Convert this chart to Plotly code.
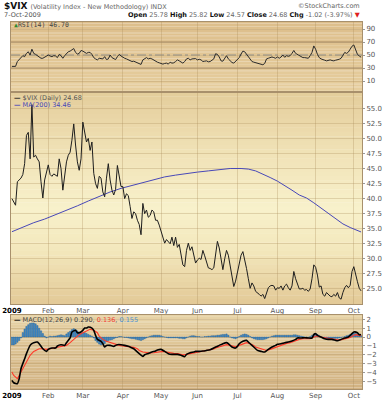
import plotly.graph_objects as go

# ---------------- data ----------------
month_labels = ["2009", "Feb", "Mar", "Apr", "May", "Jun", "Jul", "Aug", "Sep", "Oct"]
month_start_idx = [0, 20, 39, 61, 82, 102, 124, 146, 167, 188]

vix_close = [
    40.0, 39.5, 38.9, 42.8, 43.1, 43.4, 44.0, 45.8, 50.5, 51.0,
    46.6, 55.6, 46.9, 47.2, 46.6, 46.1, 42.8, 40.1, 43.1, 44.5,
    45.6, 44.0, 43.7, 44.1, 43.9, 43.7, 46.6, 45.0, 41.4, 44.0,
    46.1, 47.2, 47.7, 49.7, 52.4, 48.9, 46.1, 44.7, 46.6, 52.7,
    51.0, 49.4, 50.0, 48.0, 49.4, 44.2, 42.5, 41.7, 43.7, 43.4,
    41.1, 40.3, 43.4, 45.8, 43.1, 41.4, 40.6, 41.5, 45.5, 44.0,
    42.0, 42.0, 40.0, 40.8, 40.5, 38.7, 36.7, 37.8, 37.5, 36.4,
    35.7, 34.0, 39.2, 37.5, 38.1, 36.9, 37.2, 38.1, 37.8, 36.4,
    36.4, 35.6, 34.5, 33.5, 32.6, 33.2, 32.9, 32.5, 33.6, 32.2,
    33.6, 31.9, 32.4, 30.9, 29.0, 28.7, 31.4, 32.6, 31.4, 32.0,
    30.5, 29.3, 29.8, 30.1, 29.9, 31.4, 30.5, 29.6, 28.5, 28.4,
    28.2, 28.5, 30.4, 32.9, 31.8, 30.3, 28.2, 30.0, 31.4, 30.6,
    28.7, 26.5, 25.4, 26.3, 27.9, 29.0, 30.6, 31.2, 30.0, 28.4,
    26.7, 25.1, 26.0, 25.5, 24.6, 24.4, 24.1, 23.8, 24.1, 23.4,
    24.4, 25.2, 25.5, 25.6, 25.5, 24.8, 25.2, 25.1, 25.5, 24.8,
    25.5, 25.8, 25.2, 24.8, 25.5, 27.9, 26.7, 25.8, 25.0, 25.0,
    25.1, 24.8, 24.9, 24.6, 25.0, 26.7, 29.0, 28.6, 27.3, 25.3,
    25.5, 24.1, 23.8, 24.4, 24.1, 23.8, 23.7, 24.1, 23.8, 24.4,
    23.5, 23.3, 24.4, 25.2, 25.6, 25.2, 25.6, 27.9, 28.7, 27.3,
    26.2, 25.1, 24.68,
]

ma200_idx = [0, 6, 12, 18, 24, 30, 36, 42, 48, 54, 60, 66, 72, 78, 84, 90, 96,
             102, 108, 114, 120, 126, 130, 134, 138, 142, 146, 150, 154, 158,
             162, 166, 170, 174, 178, 182, 186, 190, 192]
ma200_val = [34.5, 35.3, 36.0, 36.6, 37.3, 38.0, 38.8, 39.6, 40.4, 41.1, 41.7,
             42.2, 42.7, 43.2, 43.6, 43.9, 44.2, 44.4, 44.6, 44.8, 45.0, 45.0,
             44.9, 44.6, 44.1, 43.5, 42.9, 42.2, 41.4, 40.6, 40.1, 39.3, 38.4,
             37.5, 36.6, 35.8, 35.2, 34.7, 34.46]

rsi14 = [
    32.5, 32, 32.5, 40, 43.5, 46, 49, 47.5, 52.5, 55,
    50, 59, 52.5, 51, 49, 47, 45, 45, 47, 48,
    50, 48.5, 47.5, 49, 48.5, 46, 51, 49, 45, 49,
    52.5, 55, 56, 58, 60, 54, 51.5, 52.5, 57, 56,
    54, 52.5, 54, 54, 51, 46, 44, 42.5, 45, 44,
    44, 47.5, 43, 44, 50, 46, 44, 43, 47.5, 51,
    48.5, 46, 45, 44, 43, 41, 40, 40.5, 39.5, 38.5,
    36.5, 35.5, 42.5, 45, 46, 44, 45, 44, 42, 40,
    39, 38, 37, 36, 37, 37.5, 36, 39, 37.5, 38,
    40, 42.5, 41, 39, 37.5, 40, 44, 45, 42.5, 44,
    44.5, 44.5, 42.5, 43.5, 42.5, 40, 40.5, 41, 39.5, 40,
    42, 44, 52, 51, 47, 41, 40.5, 44, 49, 44,
    41, 38.5, 37.5, 40, 42.5, 46, 51.5, 56, 55, 51,
    46, 42, 40, 39, 38, 37, 36.5, 36, 35, 37,
    44, 45, 46, 47, 46, 45, 47, 45, 47, 50,
    46.5, 49, 48, 49, 52.5, 57, 52.5, 51, 48.5, 47,
    46, 46, 46, 45, 49, 54, 64, 59, 51, 46,
    44, 42.5, 42, 41, 41.5, 42.5, 41.5, 41, 42, 42.5,
    43.5, 45, 50, 54, 52.5, 54.5, 59, 63.5, 65.5, 57.5,
    51, 48.5, 46.7,
]

macd_idx = [0, 1, 3, 4, 5, 7, 8, 10, 11, 12, 14, 15, 17, 19, 20, 22, 24, 25, 27,
            29, 30, 32, 33, 35, 36, 37, 39, 40, 41, 42, 44, 45, 46, 47, 49, 50,
            51, 52, 54, 56, 57, 58, 60, 62, 64, 65, 67, 68, 70, 72, 73, 75, 77,
            79, 80, 82, 84, 86, 88, 90, 91, 93, 95, 96, 98, 100, 101, 103, 105,
            107, 109, 111, 112, 114, 116, 118, 119, 120, 121, 123, 124, 125,
            127, 129, 130, 132, 134, 135, 137, 139, 141, 143, 145, 146, 148,
            150, 152, 154, 156, 157, 159, 161, 163, 165, 166, 167, 168, 170,
            172, 174, 176, 178, 179, 181, 183, 185, 187, 188, 190, 191, 192]
macd_val = [-4.92, -5.19, -5.30, -4.73, -3.60, -2.46, -1.89, -0.95, -0.76, -0.64,
            -0.57, -0.76, -1.33, -1.63, -1.40, -1.25, -1.25, -1.02, -0.87, -0.95,
            -0.64, -0.11, 0.57, 0.76, 0.49, 0.49, 0.76, 1.02, 1.02, 1.14, 1.02,
            0.76, 0.19, -0.27, -0.49, -0.76, -1.14, -0.95, -0.95, -1.06, -0.95,
            -0.87, -0.87, -0.95, -1.06, -1.14, -1.33, -1.52, -1.89, -2.20, -2.01,
            -1.86, -1.70, -1.59, -1.48, -1.40, -1.63, -1.89, -1.97, -1.97, -1.97,
            -2.08, -2.23, -1.97, -1.78, -1.70, -1.63, -1.63, -1.59, -1.52, -1.44,
            -1.25, -1.14, -0.95, -0.76, -0.64, -0.76, -0.95, -1.14, -1.25, -1.06,
            -0.76, -0.49, -0.38, -0.57, -0.95, -1.33, -1.52, -1.63, -1.70, -1.40,
            -1.14, -0.95, -0.83, -0.76, -0.64, -0.57, -0.45, -0.27, -0.11, -0.11,
            -0.08, -0.11, -0.11, 0.27, 0.38, 0.19, 0.0, -0.19, -0.27, -0.27, -0.38,
            -0.42, -0.27, -0.11, 0.0, 0.38, 0.57, 0.49, 0.27, 0.29]

signal_idx = [0, 1, 3, 4, 6, 8, 10, 12, 14, 15, 17, 19, 21, 23, 25, 26, 28, 30,
              32, 34, 36, 37, 39, 41, 43, 45, 47, 48, 50, 52, 54, 56, 58, 59, 61,
              63, 65, 67, 69, 70, 72, 74, 76, 78, 80, 81, 83, 85, 87, 89, 91, 92,
              94, 96, 98, 100, 102, 103, 105, 107, 109, 111, 112, 114, 116, 118,
              120, 122, 123, 125, 127, 129, 131, 133, 134, 136, 138, 140, 142,
              144, 145, 147, 149, 151, 153, 155, 156, 158, 160, 162, 164, 166,
              167, 169, 171, 173, 175, 177, 178, 180, 182, 184, 186, 188, 189,
              191, 192]
signal_val = [-3.98, -4.36, -4.73, -4.36, -3.60, -2.84, -2.08, -1.63, -1.40, -1.33,
              -1.33, -1.40, -1.33, -1.25, -1.17, -1.14, -1.10, -0.95, -0.64, -0.27,
              0.0, 0.27, 0.49, 0.68, 0.87, 0.76, 0.49, 0.11, -0.27, -0.49, -0.64,
              -0.76, -0.87, -0.95, -1.02, -1.06, -1.10, -1.17, -1.33, -1.52, -1.70,
              -1.78, -1.82, -1.78, -1.70, -1.63, -1.63, -1.70, -1.82, -1.86, -1.89,
              -1.93, -2.01, -1.97, -1.89, -1.82, -1.70, -1.67, -1.59, -1.55, -1.48,
              -1.36, -1.25, -1.14, -0.95, -0.87, -0.95, -1.06, -1.10, -0.95, -0.76,
              -0.64, -0.76, -0.95, -1.14, -1.25, -1.44, -1.52, -1.40, -1.25, -1.10,
              -0.95, -0.83, -0.72, -0.64, -0.49, -0.38, -0.27, -0.19, -0.19, -0.19,
              -0.04, 0.11, 0.04, -0.04, -0.11, -0.19, -0.27, -0.30, -0.34, -0.27,
              -0.19, -0.04, 0.19, 0.27, 0.19, 0.136]

macd_hist = [
    -0.9, -0.9, -0.8, -0.6, -0.4, -0.1, 0.5, 0.9, 1.2, 1.4,
    1.55, 1.6, 1.6, 1.5, 1.3, 1.0, 0.7, 0.4, 0.1, -0.1,
    0.0, 0.1, 0.05, 0.1, 0.1, 0.15, 0.2, 0.25, 0.2, 0.15,
    0.35, 0.5, 0.65, 0.85, 0.95, 0.85, 0.7, 0.55, 0.45, 0.5,
    0.5, 0.4, 0.3, 0.2, 0.1, -0.1, -0.4, -0.6, -0.8, -0.9,
    -0.8, -0.75, -0.5, -0.4, -0.35, -0.3, -0.2, -0.1, -0.05, 0.05,
    0.05, 0.0, -0.05, -0.05, -0.1, -0.15, -0.2, -0.2, -0.25, -0.3,
    -0.35, -0.4, -0.3, -0.2, -0.1, 0.0, 0.1, 0.15, 0.2, 0.2,
    0.2, 0.2, 0.15, 0.05, 0.0, -0.05, -0.1, -0.1, -0.1, -0.1,
    -0.1, -0.1, -0.15, -0.15, -0.2, -0.2, -0.1, 0.0, 0.1, 0.15,
    0.15, 0.1, 0.05, 0.05, 0.0, 0.0, 0.05, 0.05, 0.1, 0.1,
    0.15, 0.15, 0.15, 0.2, 0.2, 0.25, 0.3, 0.3, 0.35, 0.2,
    0.0, -0.1, -0.15, -0.2, -0.1, 0.05, 0.2, 0.3, 0.35, 0.3,
    0.2, 0.05, -0.1, -0.2, -0.25, -0.3, -0.3, -0.3, -0.3, -0.25,
    -0.2, -0.1, 0.0, 0.1, 0.15, 0.2, 0.2, 0.2, 0.2, 0.2,
    0.2, 0.2, 0.2, 0.2, 0.2, 0.25, 0.25, 0.2, 0.15, 0.1,
    0.05, 0.0, 0.0, -0.05, 0.05, 0.2, 0.35, 0.4, 0.3, 0.15,
    0.0, -0.1, -0.15, -0.2, -0.2, -0.2, -0.2, -0.2, -0.15, -0.15,
    -0.1, -0.05, 0.0, 0.05, 0.15, 0.2, 0.3, 0.4, 0.45, 0.4,
    0.3, 0.2, 0.155,
]

rsi_ticks = [10, 30, 50, 70, 90]
main_ticks = [25.0, 27.5, 30.0, 32.5, 35.0, 37.5, 40.0, 42.5, 45.0, 47.5, 50.0, 52.5, 55.0]
macd_ticks = [-5, -4, -3, -2, -1, 0, 1, 2]

# ---------------- layout helpers ----------------
W, H = 388, 400
ML, MR = 11, 26
PW = W - ML - MR


def dom(top_px, bottom_px):
    return [1 - bottom_px / H, 1 - top_px / H]


def px_x(px):
    return (px - ML) / PW


def px_y(py):
    return 1 - py / H


FONT = "DejaVu Sans"
GRID = "rgba(170,140,90,0.30)"
FRAME = "#a8906c"
TICKC = "#555555"

days = list(range(len(vix_close)))
ndays = len(vix_close)
xrange_ = [-0.5, ndays - 0.5]

fig = go.Figure()

# RSI
fig.add_trace(go.Scatter(x=list(range(len(rsi14))), y=rsi14, mode="lines",
                         line=dict(color="#2a2a2a", width=1), xaxis="x", yaxis="y",
                         hoverinfo="skip"))
# main
fig.add_trace(go.Scatter(x=ma200_idx, y=ma200_val, mode="lines",
                         line=dict(color="#4848b8", width=1), xaxis="x2", yaxis="y2",
                         hoverinfo="skip"))
fig.add_trace(go.Scatter(x=days, y=vix_close, mode="lines",
                         line=dict(color="#1e1e1e", width=1), xaxis="x2", yaxis="y2",
                         hoverinfo="skip"))
# MACD
fig.add_trace(go.Bar(x=list(range(len(macd_hist))), y=macd_hist,
                     marker=dict(color="#3f8ccc", line=dict(color="#1f5c92", width=0.4)),
                     width=0.75, xaxis="x3", yaxis="y3", hoverinfo="skip"))
fig.add_trace(go.Scatter(x=signal_idx, y=signal_val, mode="lines",
                         line=dict(color="#ff3a2a", width=1.1), xaxis="x3", yaxis="y3",
                         hoverinfo="skip"))
fig.add_trace(go.Scatter(x=macd_idx, y=macd_val, mode="lines",
                         line=dict(color="#000000", width=1.6, shape="spline", smoothing=0.6),
                         xaxis="x3", yaxis="y3", hoverinfo="skip"))

RSI_DOM = dom(22, 92)
MAIN_DOM = dom(92, 304)
MACD_DOM = dom(315, 389)

month_text = ["<span style='color:#000'><b>%s</b></span>" % month_labels[0]] + month_labels[1:]


def xax(anchor, labels):
    return dict(domain=[0, 1], range=xrange_, anchor=anchor, tickmode="array",
                tickvals=month_start_idx, ticktext=month_text, showticklabels=labels,
                showgrid=True, gridcolor=GRID, gridwidth=1, zeroline=False,
                showline=True, mirror=True, linecolor=FRAME, linewidth=1, ticks="",
                tickfont=dict(family=FONT, size=7, color=TICKC), fixedrange=True)


def yax(anchor, domain, rng, ticks, fmt=None):
    d = dict(domain=domain, range=rng, anchor=anchor, side="right", tickmode="array",
             tickvals=ticks, showgrid=True, gridcolor=GRID, gridwidth=1, zeroline=False,
             showline=True, mirror=True, linecolor=FRAME, linewidth=1,
             ticks="outside", ticklen=2, tickcolor="#999", tickwidth=1,
             tickfont=dict(family=FONT, size=7, color=TICKC), fixedrange=True)
    if fmt:
        d["tickformat"] = fmt
    return d


shapes = []


def gradient(xref, yref, stops, n=48):
    def col(t):
        for (p0, c0), (p1, c1) in zip(stops[:-1], stops[1:]):
            if p0 <= t <= p1:
                f = (t - p0) / (p1 - p0) if p1 > p0 else 0
                return "rgb(%d,%d,%d)" % tuple(round(a + (b - a) * f) for a, b in zip(c0, c1))
        return "rgb(%d,%d,%d)" % stops[-1][1]
    for k in range(n):
        t = (k + 0.5) / n
        shapes.append(dict(type="rect", xref=xref + " domain", yref=yref + " domain",
                           x0=0, x1=1, y0=1 - (k + 1) / n - 0.002, y1=1 - k / n,
                           fillcolor=col(t), line=dict(width=0), layer="below"))


gradient("x", "y", [(0, (221, 190, 139)), (1, (230, 206, 158))])
gradient("x2", "y2", [(0, (228, 205, 155)), (0.3, (241, 227, 184)), (0.55, (248, 241, 203)),
                      (0.75, (243, 231, 188)), (1, (226, 201, 150))])
gradient("x3", "y3", [(0, (231, 211, 166)), (1, (209, 177, 128))])

# RSI reference lines
for lvl in (70, 30):
    shapes.append(dict(type="line", xref="x domain", yref="y", x0=0, x1=1, y0=lvl, y1=lvl,
                       line=dict(color="#a3855e", width=1), layer="below"))
shapes.append(dict(type="line", xref="x domain", yref="y", x0=0, x1=1, y0=50, y1=50,
                   line=dict(color="#8d8d8d", width=1, dash="dashdot"), layer="below"))

ann = []
ann.append(dict(xref="paper", yref="paper", x=px_x(2), y=px_y(6), xanchor="left",
                yanchor="middle", showarrow=False,
                text="<b>$VIX</b> <span style='font-size:6.5px;color:#666'>(Volatility Index - New Methodology) INDX</span>",
                font=dict(family=FONT, size=9, color="#111")))
ann.append(dict(xref="paper", yref="paper", x=px_x(362), y=px_y(6), xanchor="right",
                yanchor="middle", showarrow=False, text="©StockCharts.com",
                font=dict(family=FONT, size=6.5, color="#666")))
ann.append(dict(xref="paper", yref="paper", x=px_x(2), y=px_y(15), xanchor="left",
                yanchor="middle", showarrow=False, text="7-Oct-2009",
                font=dict(family=FONT, size=6.5, color="#555")))
ann.append(dict(xref="paper", yref="paper", x=px_x(362), y=px_y(15), xanchor="right",
                yanchor="middle", showarrow=False,
                text=("<span style='color:#111'><b>Open</b></span> 25.78 "
                      "<span style='color:#111'><b>High</b></span> 25.82 "
                      "<span style='color:#111'><b>Low</b></span> 24.57 "
                      "<span style='color:#111'><b>Close</b></span> 24.68 "
                      "<span style='color:#111'><b>Chg</b></span> -1.02 (-3.97%) "
                      "<span style='color:#e02020'>▼</span>"),
                font=dict(family=FONT, size=6.5, color="#666")))
ann.append(dict(xref="paper", yref="paper", x=px_x(12), y=px_y(25.5), xanchor="left",
                yanchor="middle", showarrow=False,
                text="<span style='color:#2f8a2f'>▲</span>RSI(14) 46.70",
                font=dict(family="DejaVu Sans Mono", size=6.5, color="#444")))
ann.append(dict(xref="paper", yref="paper", x=px_x(12), y=px_y(98), xanchor="left",
                yanchor="middle", showarrow=False,
                text="<span style='color:#222'><b>—</b></span> $VIX (Daily) 24.68",
                font=dict(family=FONT, size=6.5, color="#555")))
ann.append(dict(xref="paper", yref="paper", x=px_x(12), y=px_y(104.5), xanchor="left",
                yanchor="middle", showarrow=False,
                text="<b>—</b> MA(200) 34.46",
                font=dict(family=FONT, size=6.5, color="#4848b8")))
ann.append(dict(xref="paper", yref="paper", x=px_x(12), y=px_y(319.5), xanchor="left",
                yanchor="middle", showarrow=False,
                text=("<span style='color:#000'><b>—</b></span> MACD(12,26,9) 0.290, "
                      "<span style='color:#f04030'>0.136</span>, "
                      "<span style='color:#4a90d0'>0.155</span>"),
                font=dict(family=FONT, size=6.5, color="#444")))

fig.update_layout(
    width=W, height=H,
    margin=dict(l=ML, r=MR, t=0, b=0, pad=0, autoexpand=False),
    paper_bgcolor="white",
    plot_bgcolor="rgba(0,0,0,0)",
    showlegend=False,
    bargap=0.2,
    xaxis=xax("y", False),
    xaxis2=xax("y2", True),
    xaxis3=xax("y3", True),
    yaxis=yax("x", RSI_DOM, [-6.9, 100.8], rsi_ticks),
    yaxis2=yax("x2", MAIN_DOM, [22.5, 57.7], main_ticks, ".1f"),
    yaxis3=yax("x3", MACD_DOM, [-5.9, 2.5], macd_ticks),
    shapes=shapes,
    annotations=ann,
)

fig.write_html("out.html", config={"displayModeBar": False},
               post_script="document.body.style.margin='0';document.body.style.overflow='hidden';")
